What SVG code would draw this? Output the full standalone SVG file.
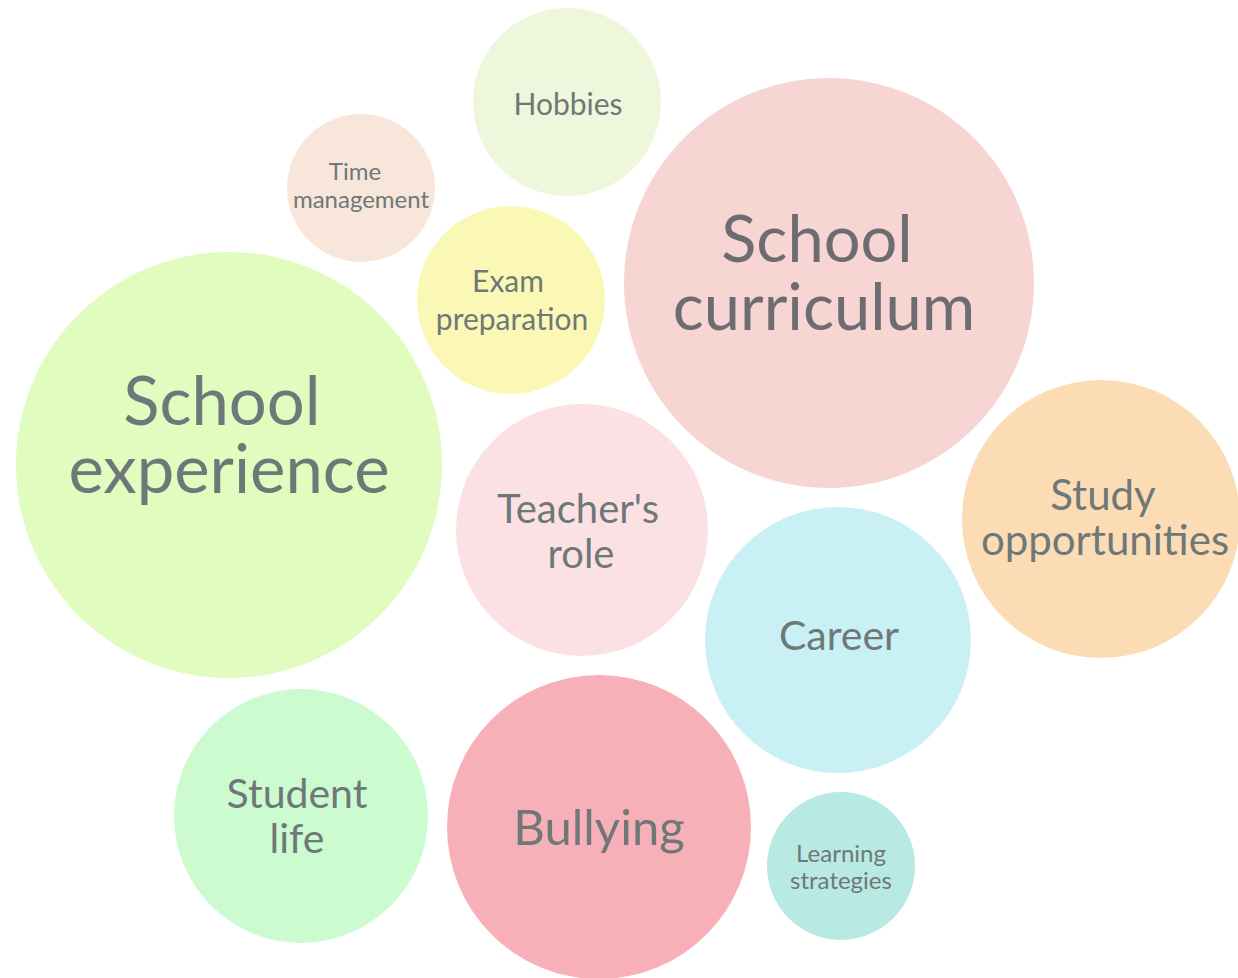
<svg xmlns="http://www.w3.org/2000/svg" width="1238" height="978" viewBox="0 0 1238 978">
<style>
text{font-family:Lato,"Open Sans","DejaVu Sans",sans-serif;fill:#6f7878;text-anchor:middle}
</style>
<rect width="1238" height="978" fill="#ffffff"/>
<g id="hobbies"><circle cx="567" cy="102" r="94" fill="#eef7dc"/><text x="568" y="115" font-size="30">Hobbies</text></g>
<g id="time-management"><circle cx="361" cy="188" r="74" fill="#f8e6da"/><text font-size="24"><tspan x="355" y="180">Time</tspan><tspan x="361" y="208">management</tspan></text></g>
<g id="exam-preparation"><circle cx="511" cy="300" r="94" fill="#fbf8b6"/><text font-size="30"><tspan x="508" y="292">Exam</tspan><tspan x="512" y="330">preparation</tspan></text></g>
<g id="school-curriculum"><circle cx="829" cy="283" r="205" fill="#f7d5d2"/><text font-size="65" fill="#6e6c70" style="fill:#6e6c70"><tspan x="817" y="262">School</tspan><tspan x="824" y="330">curriculum</tspan></text></g>
<g id="school-experience"><circle cx="229" cy="465" r="213" fill="#e0fcbf"/><text font-size="67"><tspan x="222" y="425">School</tspan><tspan x="229" y="493">experience</tspan></text></g>
<g id="teachers-role"><circle cx="582" cy="530" r="126" fill="#fce1e4"/><text font-size="40"><tspan x="578" y="523">Teacher's</tspan><tspan x="581" y="568">role</tspan></text></g>
<g id="study-opportunities"><circle cx="1101" cy="519" r="139" fill="#fcdcb4"/><text font-size="42"><tspan x="1103" y="510">Study</tspan><tspan x="1105" y="555">opportunities</tspan></text></g>
<g id="career"><circle cx="838" cy="640" r="133" fill="#c9f0f4"/><text x="839" y="650" font-size="41">Career</text></g>
<g id="student-life"><circle cx="301" cy="816" r="127" fill="#cbfbcf"/><text font-size="41"><tspan x="297" y="808">Student</tspan><tspan x="297" y="853">life</tspan></text></g>
<g id="bullying"><circle cx="599" cy="827" r="152" fill="#f8b0b8"/><text x="599" y="845" font-size="49">Bullying</text></g>
<g id="learning-strategies"><circle cx="841" cy="866" r="74" fill="#b8e9e2"/><text font-size="24"><tspan x="841" y="862">Learning</tspan><tspan x="841" y="889">strategies</tspan></text></g>
<g id="connectors"></g>
</svg>
